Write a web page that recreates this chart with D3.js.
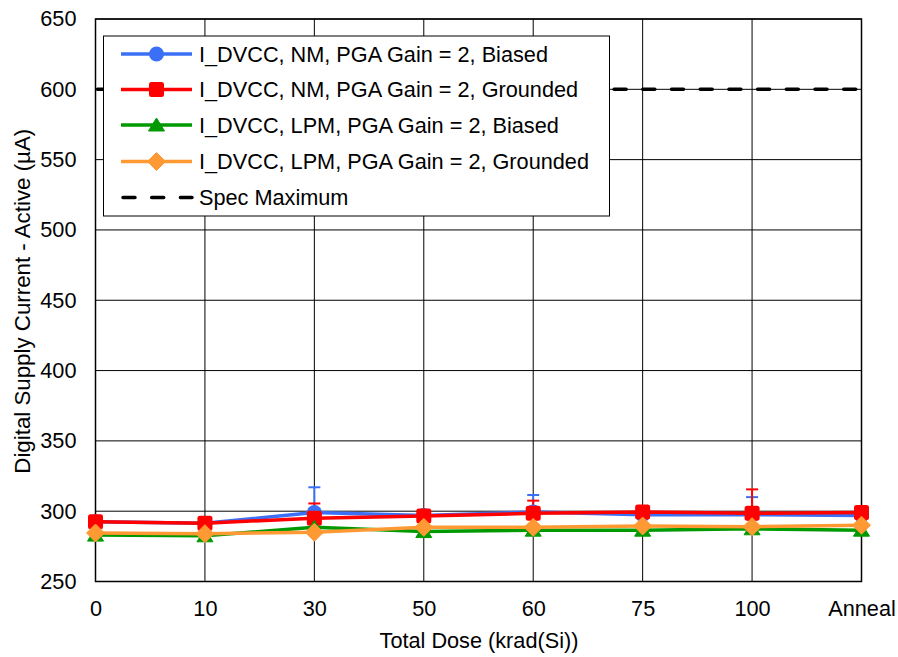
<!DOCTYPE html>
<html>
<head>
<meta charset="utf-8">
<script src="https://cdn.jsdelivr.net/npm/d3@7/dist/d3.min.js"></script>
<style>
  body { margin: 0; background: #fff; }
  svg { display: block; font-family: "Liberation Sans", Arial, sans-serif; }
</style>
</head>
<body>
<svg id="chart" width="898" height="657"></svg>
<script>
// Total dose steps along the x axis
const doses = ["0", "10", "30", "50", "60", "75", "100", "Anneal"];
const yTicks = [250, 300, 350, 400, 450, 500, 550, 600, 650];

// Mean active digital supply current (µA) per dose step
const nmBiased     = [292.5, 291.5, 299.0, 297.0, 299.5, 297.5, 297.5, 297.0];
const nmGrounded   = [292.5, 291.5, 295.0, 296.5, 298.5, 299.5, 298.5, 299.0];
const lpmBiased    = [283.0, 282.5, 288.5, 285.5, 286.5, 286.5, 287.5, 286.5];
const lpmGrounded  = [284.5, 284.0, 285.0, 288.5, 288.5, 289.5, 289.0, 290.0];

// Upper error (µA) shown for the normal-mode series
const nmBiasedErr   = [0, 0, 18, 0, 12, 0, 12.5, 0];
const nmGroundedErr = [0, 0, 10.5, 0, 9, 0, 17, 0];

const specMax = 600;
const FS = 21.7;

const series = [
  { name: "I_DVCC, NM, PGA Gain = 2, Biased",    values: nmBiased,    err: nmBiasedErr,   color: "#3b6ff5", shape: "circle" },
  { name: "I_DVCC, NM, PGA Gain = 2, Grounded",  values: nmGrounded,  err: nmGroundedErr, color: "#ff0000", shape: "square" },
  { name: "I_DVCC, LPM, PGA Gain = 2, Biased",   values: lpmBiased,   err: null,          color: "#009a00", shape: "triangle" },
  { name: "I_DVCC, LPM, PGA Gain = 2, Grounded", values: lpmGrounded, err: null,          color: "#ff9933", shape: "diamond" }
];

const svg = d3.select("#chart");
const m = { left: 95.5, right: 861.5, top: 19, bottom: 581.5 };

const x = d3.scalePoint().domain(doses).range([m.left, m.right]);
const y = d3.scaleLinear().domain([250, 650]).range([m.bottom, m.top]);

// Grid
const grid = svg.append("g");
grid.selectAll("line.v").data(doses.slice(1)).join("line")
  .attr("x1", d => x(d)).attr("x2", d => x(d))
  .attr("y1", m.top).attr("y2", m.bottom)
  .attr("stroke", "#000").attr("stroke-width", 1);
grid.selectAll("line.h").data(yTicks.slice(1)).join("line")
  .attr("x1", m.left).attr("x2", m.right)
  .attr("y1", d => y(d)).attr("y2", d => y(d))
  .attr("stroke", "#000").attr("stroke-width", 1);

// Frame
svg.append("rect")
  .attr("x", m.left).attr("y", m.top)
  .attr("width", m.right - m.left).attr("height", m.bottom - m.top)
  .attr("fill", "none").attr("stroke", "#000").attr("stroke-width", 1.5);

// Axes
const xAxis = svg.append("g").attr("transform", `translate(0,${m.bottom})`)
  .call(d3.axisBottom(x).tickSize(0).tickPadding(19));
const yAxis = svg.append("g").attr("transform", `translate(${m.left},0)`)
  .call(d3.axisLeft(y).tickValues(yTicks).tickSize(0).tickPadding(19));
[xAxis, yAxis].forEach(a => {
  a.select(".domain").remove();
  a.selectAll("text").attr("font-size", FS).attr("fill", "#000")
    .attr("font-family", "Liberation Sans, Arial, sans-serif");
});

// Axis titles
svg.append("text")
  .attr("x", 479).attr("y", 648)
  .attr("text-anchor", "middle").attr("font-size", FS).text("Total Dose (krad(Si))");
svg.append("text")
  .attr("transform", `translate(30,${(m.top + m.bottom) / 2 + 1}) rotate(-90)`)
  .attr("text-anchor", "middle").attr("font-size", 22.3).text("Digital Supply Current - Active (µA)");

// Spec maximum line
svg.append("line")
  .attr("x1", m.left + 2).attr("x2", m.right)
  .attr("y1", y(specMax)).attr("y2", y(specMax))
  .attr("stroke", "#000").attr("stroke-width", 3.5)
  .attr("stroke-dasharray", "12,16.7").attr("stroke-linecap", "round");

function drawMarker(g, shape, cx, cy, color) {
  if (shape === "square") {
    g.append("rect").attr("x", cx - 7.5).attr("y", cy - 7.5)
      .attr("width", 15).attr("height", 15).attr("rx", 2.5)
      .attr("fill", color);
  } else if (shape === "diamond") {
    g.append("path").attr("d", `M${cx},${cy - 9}L${cx + 9},${cy}L${cx},${cy + 9}L${cx - 9},${cy}Z`)
      .attr("fill", color).attr("stroke", color).attr("stroke-width", 1).attr("stroke-linejoin", "round");
  } else if (shape === "triangle") {
    g.append("path").attr("d", `M${cx},${cy - 7}L${cx + 8},${cy + 6}L${cx - 8},${cy + 6}Z`)
      .attr("fill", color).attr("stroke", color).attr("stroke-width", 1).attr("stroke-linejoin", "round");
  } else {
    g.append("circle").attr("cx", cx).attr("cy", cy).attr("r", 7.5).attr("fill", color);
  }
}

const line = d3.line().x((d, i) => x(doses[i])).y(d => y(d));

// Error bars (plus direction)
series.forEach(s => {
  if (!s.err) return;
  const g = svg.append("g");
  s.values.forEach((v, i) => {
    if (!s.err[i]) return;
    const cx = x(doses[i]), top = y(v + s.err[i]);
    g.append("line").attr("x1", cx).attr("x2", cx).attr("y1", y(v)).attr("y2", top)
      .attr("stroke", s.color).attr("stroke-width", 2);
    g.append("line").attr("x1", cx - 6).attr("x2", cx + 6).attr("y1", top).attr("y2", top)
      .attr("stroke", s.color).attr("stroke-width", 2);
  });
});

// Series lines and markers
series.forEach(s => {
  const g = svg.append("g");
  g.append("path").datum(s.values).attr("d", line)
    .attr("fill", "none").attr("stroke", s.color).attr("stroke-width", 3.5);
  s.values.forEach((v, i) => drawMarker(g, s.shape, x(doses[i]), y(v), s.color));
});

// Legend
const lg = svg.append("g");
lg.append("rect").attr("x", 103.5).attr("y", 36).attr("width", 506).attr("height", 180)
  .attr("fill", "#fff").attr("stroke", "#000").attr("stroke-width", 1);
const rows = series.map(s => ({ name: s.name, color: s.color, shape: s.shape }))
  .concat([{ name: "Spec Maximum", color: "#000", shape: null }]);
const rowY = [54, 89.5, 125, 161.5, 197.5];
rows.forEach((r, i) => {
  const yy = rowY[i];
  if (r.shape) {
    lg.append("line").attr("x1", 121).attr("x2", 192).attr("y1", yy).attr("y2", yy)
      .attr("stroke", r.color).attr("stroke-width", 3.5);
    drawMarker(lg, r.shape, 156.5, yy, r.color);
  } else {
    lg.append("line").attr("x1", 123).attr("x2", 192).attr("y1", yy).attr("y2", yy)
      .attr("stroke", "#000").attr("stroke-width", 3.5)
      .attr("stroke-dasharray", "12,16.7").attr("stroke-linecap", "round");
  }
  lg.append("text").attr("x", 199).attr("y", yy).attr("dy", "0.35em")
    .attr("font-size", FS).attr("fill", "#000").text(r.name);
});
</script>
</body>
</html>
